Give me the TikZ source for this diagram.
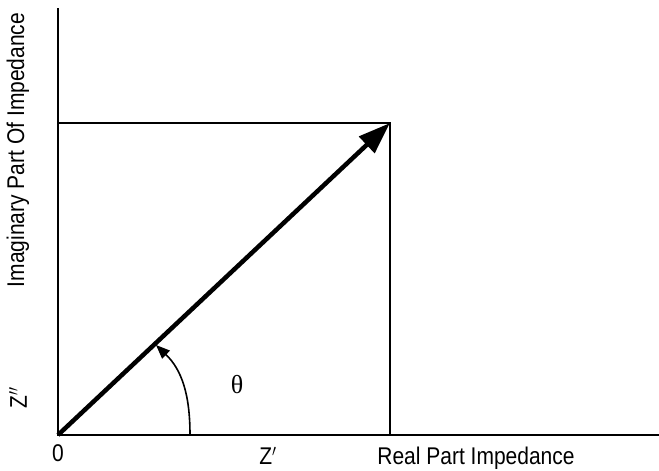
\documentclass[tikz,border=0pt]{standalone}
\usepackage{fontspec}
\setmainfont{Liberation Sans}
\newfontfamily\serifz{Liberation Serif}
\usetikzlibrary{arrows.meta}
\newcommand{\tallt}[1]{\scalebox{1}[1.15]{#1}}
\begin{document}
\begin{tikzpicture}[x=1pt,y=-1pt,
  axis/.style={line width=2.2pt},
  frame/.style={line width=1.5pt},
  vec/.style={line width=4.5pt,-{Triangle[length=32pt,width=22pt]}},
  anglearc/.style={line width=1.6pt,-{Triangle[length=14pt,width=11pt]}},
  lab/.style={font=\fontsize{21}{22}\selectfont, inner sep=0pt}]
\useasboundingbox (0,0) rectangle (659,471);
\coordinate (O) at (58,435);
\coordinate (ytop) at (58,8);
\coordinate (xend) at (659,435);
\coordinate (P) at (390,123);
\coordinate (Px) at (390,435);
\coordinate (Py) at (58,123);
\coordinate (A0) at (190,435);
\coordinate (A1) at (156,345);
\draw[axis] (ytop) -- (O) -- (xend);
\draw[frame] (Py) -- (P) -- (Px);
\draw[vec] (O) -- (P);
\draw[anglearc] (A0) .. controls (190,395) and (182,370) .. (A1);
\node[lab] (zero) at (58,453) {\tallt{0}};
\node[lab] (zx) at (268,456) {\tallt{Z$'$}};
\node[lab] (xlab) at (476,458) {\tallt{Real Part Impedance}};
\node[lab, rotate=90] (ylab) at (18,150) {\tallt{Imaginary Part Of Impedance}};
\node[lab, rotate=90] (zy) at (18,398) {\tallt{Z$''$}};
\node[font=\serifz\fontsize{26}{28}\selectfont, inner sep=0pt] (theta) at (237,385) {θ};
\end{tikzpicture}
\end{document}
